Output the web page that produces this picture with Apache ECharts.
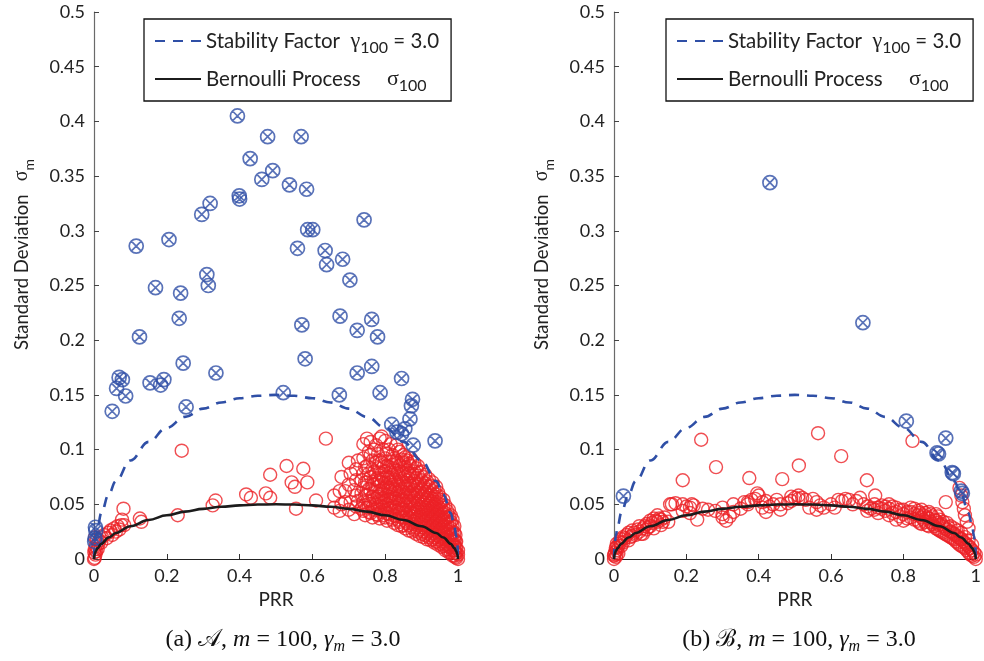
<!DOCTYPE html>
<html>
<head>
<meta charset="utf-8">
<script src="https://cdn.jsdelivr.net/npm/echarts@6/dist/echarts.min.js"></script>
<style>
  html, body { margin: 0; padding: 0; background: #fff; }
  #chart { width: 984px; height: 661px; }
</style>
</head>
<body>
<div id="chart"></div>
<script>
// Axis ticks
const xTicks = [0, 0.2, 0.4, 0.6, 0.8, 1];
const yTicks = [0, 0.05, 0.1, 0.15, 0.2, 0.25, 0.3, 0.35, 0.4, 0.45, 0.5];

// Reference curves sampled along PRR (m = 100)
const prrGrid = [0, 0.002, 0.005, 0.01, 0.02, 0.04, 0.06, 0.1, 0.15, 0.2, 0.25, 0.3, 0.35, 0.4, 0.45, 0.5,
                 0.55, 0.6, 0.65, 0.7, 0.75, 0.8, 0.85, 0.9, 0.94, 0.96, 0.98, 0.99, 0.995, 0.998, 1];
const bernoulliSigma = [0, 0.00447, 0.00705, 0.00995, 0.014, 0.0196, 0.02375, 0.03, 0.03571, 0.04, 0.0433, 0.04583, 0.0477, 0.04899, 0.04975, 0.05,
                        0.04975, 0.04899, 0.0477, 0.04583, 0.0433, 0.04, 0.03571, 0.03, 0.02375, 0.0196, 0.014, 0.00995, 0.00705, 0.00447, 0];
const stabilitySigma = [0, 0.0134, 0.0212, 0.0298, 0.042, 0.0588, 0.0712, 0.09, 0.1071, 0.12, 0.1299, 0.1375, 0.1431, 0.147, 0.1492, 0.15,
                        0.1492, 0.147, 0.1431, 0.1375, 0.1299, 0.12, 0.1071, 0.09, 0.0712, 0.0588, 0.042, 0.0298, 0.0212, 0.0134, 0];

// Panel (a): links flagged as unstable  [PRR, sigma]
const unstableA = [
  [0.394,0.405],[0.477,0.386],[0.569,0.386],[0.429,0.366],[0.491,0.355],[0.461,0.347],[0.537,0.342],[0.584,0.338],
  [0.399,0.332],[0.400,0.329],[0.319,0.325],[0.296,0.315],[0.742,0.310],[0.587,0.301],[0.601,0.301],[0.116,0.286],
  [0.206,0.292],[0.559,0.284],[0.635,0.282],[0.639,0.269],[0.683,0.274],[0.703,0.255],[0.310,0.260],[0.314,0.250],
  [0.169,0.248],[0.238,0.243],[0.234,0.220],[0.676,0.222],[0.763,0.219],[0.571,0.214],[0.723,0.209],[0.779,0.203],
  [0.125,0.203],[0.580,0.183],[0.245,0.179],[0.763,0.176],[0.723,0.170],[0.335,0.170],[0.845,0.165],[0.069,0.166],
  [0.078,0.164],[0.062,0.156],[0.154,0.161],[0.183,0.159],[0.192,0.164],[0.087,0.149],[0.050,0.135],[0.253,0.139],
  [0.520,0.152],[0.674,0.150],[0.786,0.152],[0.875,0.146],[0.872,0.140],[0.868,0.128],[0.818,0.123],[0.832,0.116],
  [0.845,0.1145],[0.854,0.119],[0.877,0.104],[0.937,0.108],[0.004,0.029],[0.005,0.026],[0.003,0.019],[0.002,0.016]
];

// Panel (a): stable links, sparse part  [PRR, sigma]
const stableA = [
  [0.002,0.001],[0.004,0.004],[0.006,0.007],[0.005,0.012],[0.010,0.009],[0.012,0.014],[0.015,0.017],[0.020,0.015],
  [0.022,0.020],[0.028,0.022],[0.035,0.019],[0.040,0.024],[0.045,0.026],[0.050,0.022],[0.055,0.028],[0.060,0.025],
  [0.065,0.030],[0.070,0.027],[0.075,0.031],[0.003,0.020],[0.008,0.018],[0.001,0.006],[0.000,0.000],[0.002,0.009],
  [0.081,0.046],[0.077,0.036],[0.083,0.031],[0.126,0.037],[0.130,0.034],[0.230,0.040],[0.241,0.099],[0.326,0.049],
  [0.334,0.0535],[0.418,0.059],[0.431,0.056],[0.472,0.060],[0.484,0.056],[0.484,0.077],[0.529,0.085],[0.543,0.070],
  [0.552,0.066],[0.575,0.0825],[0.586,0.070],[0.555,0.046],[0.610,0.0535],[0.637,0.110]
];

// Panel (a): stable links, dense high-PRR part, one row per PRR value
const stableRowsA = [
  [0.66, [0.047, 0.058]],
  [0.68, [0.050, 0.075]],
  [0.69, [0.052, 0.062]],
  [0.70, [0.045, 0.068, 0.088]],
  [0.72, [0.048, 0.058, 0.072, 0.082]],
  [0.74, [0.044, 0.052, 0.065, 0.078, 0.092, 0.105]],
  [0.75, [0.047, 0.058, 0.070, 0.085, 0.110]],
  [0.76, [0.042, 0.050, 0.062, 0.075, 0.095, 0.107]],
  [0.77, [0.045, 0.055, 0.068, 0.080, 0.100]],
  [0.78, [0.040, 0.048, 0.057, 0.066, 0.074, 0.083, 0.096]],
  [0.79, [0.043, 0.052, 0.060, 0.070, 0.078, 0.088, 0.112]],
  [0.80, [0.038, 0.045, 0.053, 0.062, 0.070, 0.080, 0.092, 0.108]],
  [0.81, [0.041, 0.049, 0.057, 0.065, 0.074, 0.084, 0.100]],
  [0.82, [0.036, 0.044, 0.052, 0.060, 0.068, 0.077, 0.086, 0.095]],
  [0.83, [0.039, 0.047, 0.055, 0.063, 0.072, 0.081, 0.090, 0.104]],
  [0.84, [0.034, 0.042, 0.050, 0.058, 0.066, 0.075, 0.085, 0.098]],
  [0.85, [0.031, 0.038, 0.045, 0.053, 0.061, 0.070, 0.078, 0.088, 0.095]],
  [0.86, [0.033, 0.040, 0.048, 0.056, 0.064, 0.072, 0.081, 0.090]],
  [0.87, [0.029, 0.036, 0.043, 0.051, 0.059, 0.067, 0.076, 0.085, 0.092]],
  [0.88, [0.027, 0.034, 0.041, 0.048, 0.056, 0.063, 0.071, 0.080, 0.088]],
  [0.89, [0.025, 0.031, 0.038, 0.045, 0.052, 0.060, 0.068, 0.076, 0.085]],
  [0.90, [0.023, 0.029, 0.036, 0.043, 0.050, 0.057, 0.064, 0.072, 0.080]],
  [0.91, [0.022, 0.028, 0.034, 0.040, 0.047, 0.054, 0.061, 0.069, 0.077]],
  [0.92, [0.020, 0.026, 0.032, 0.038, 0.044, 0.051, 0.058, 0.066, 0.073]],
  [0.93, [0.018, 0.024, 0.030, 0.036, 0.042, 0.048, 0.055, 0.062, 0.070]],
  [0.94, [0.016, 0.022, 0.028, 0.034, 0.040, 0.046, 0.052, 0.059, 0.066]],
  [0.95, [0.014, 0.020, 0.026, 0.032, 0.038, 0.044, 0.050, 0.057]],
  [0.96, [0.012, 0.018, 0.023, 0.029, 0.035, 0.041, 0.047, 0.054]],
  [0.97, [0.009, 0.014, 0.020, 0.026, 0.032, 0.038, 0.044]],
  [0.98, [0.006, 0.011, 0.017, 0.022, 0.028, 0.034, 0.040]],
  [0.99, [0.003, 0.008, 0.013, 0.018, 0.024, 0.030]],
  [0.995, [0.001, 0.005, 0.010, 0.016]],
  [1.0, [0.000, 0.004, 0.008]],
  [0.675, [0.044, 0.062]],
  [0.705, [0.052, 0.078]],
  [0.715, [0.041, 0.063]],
  [0.725, [0.053, 0.090]],
  [0.735, [0.046, 0.060, 0.072]],
  [0.745, [0.040, 0.049, 0.058, 0.070, 0.084]],
  [0.755, [0.043, 0.053, 0.064, 0.078, 0.098]],
  [0.765, [0.038, 0.047, 0.057, 0.068, 0.082, 0.090]],
  [0.775, [0.041, 0.050, 0.061, 0.073, 0.088, 0.104]],
  [0.785, [0.037, 0.045, 0.053, 0.062, 0.071, 0.079, 0.090, 0.110]],
  [0.795, [0.040, 0.048, 0.056, 0.065, 0.074, 0.084, 0.100]],
  [0.805, [0.035, 0.042, 0.050, 0.058, 0.066, 0.075, 0.085, 0.096]],
  [0.815, [0.038, 0.046, 0.054, 0.062, 0.070, 0.079, 0.089, 0.105]],
  [0.825, [0.033, 0.040, 0.048, 0.056, 0.064, 0.073, 0.082, 0.092]],
  [0.835, [0.031, 0.036, 0.044, 0.052, 0.060, 0.068, 0.078, 0.088, 0.100]],
  [0.845, [0.030, 0.038, 0.046, 0.054, 0.062, 0.071, 0.080, 0.091]],
  [0.855, [0.028, 0.035, 0.042, 0.050, 0.058, 0.066, 0.075, 0.084, 0.093]],
  [0.865, [0.026, 0.031, 0.038, 0.045, 0.053, 0.061, 0.069, 0.078, 0.087]],
  [0.875, [0.025, 0.032, 0.039, 0.046, 0.053, 0.061, 0.069, 0.078, 0.089]],
  [0.885, [0.023, 0.029, 0.036, 0.043, 0.050, 0.058, 0.066, 0.074, 0.083]],
  [0.895, [0.021, 0.027, 0.033, 0.040, 0.047, 0.054, 0.062, 0.070, 0.079]],
  [0.905, [0.020, 0.025, 0.031, 0.038, 0.045, 0.052, 0.059, 0.067, 0.075]],
  [0.915, [0.018, 0.024, 0.030, 0.036, 0.042, 0.049, 0.056, 0.063, 0.071]],
  [0.925, [0.017, 0.022, 0.028, 0.034, 0.040, 0.046, 0.053, 0.060, 0.067]],
  [0.935, [0.015, 0.020, 0.026, 0.032, 0.038, 0.044, 0.050, 0.057, 0.064]],
  [0.945, [0.013, 0.018, 0.024, 0.030, 0.036, 0.042, 0.048, 0.055, 0.061]],
  [0.955, [0.011, 0.016, 0.021, 0.027, 0.033, 0.039, 0.045, 0.052]],
  [0.965, [0.008, 0.013, 0.018, 0.024, 0.030, 0.036, 0.042, 0.049]],
  [0.975, [0.006, 0.011, 0.016, 0.021, 0.027, 0.033, 0.039, 0.045]],
  [0.985, [0.003, 0.008, 0.013, 0.018, 0.024, 0.030, 0.036]],
  [0.993, [0.002, 0.006, 0.011, 0.016, 0.022]]
];

// Panel (b): links flagged as unstable  [PRR, sigma]
const unstableB = [
  [0.431,0.344],[0.688,0.216],[0.808,0.126],[0.917,0.1105],[0.893,0.097],[0.897,0.096],
  [0.935,0.079],[0.938,0.078],[0.960,0.062],[0.963,0.060],[0.026,0.0575]
];

// Panel (b): stable links, outliers  [PRR, sigma]
const stableB = [
  [0.241,0.109],[0.564,0.115],[0.825,0.108],[0.628,0.094],[0.282,0.084],[0.511,0.0855],[0.190,0.072],[0.374,0.074],
  [0.465,0.073],[0.699,0.072],[0.722,0.058],[0.396,0.060],[0.917,0.052],[0.955,0.065],[0.960,0.058],[0.963,0.052],
  [0.967,0.046],[0.970,0.040],[0.975,0.034],[0.980,0.028]
];

// Panel (b): stable links along the Bernoulli band, one row per PRR value
const stableRowsB = [
  [0.000, [0.000, 0.003]], [0.003, [0.006]], [0.005, [0.002, 0.010]], [0.008, [0.008, 0.014]],
  [0.012, [0.005, 0.012]], [0.015, [0.016]], [0.020, [0.012, 0.018]], [0.025, [0.015, 0.020]],
  [0.030, [0.019]], [0.040, [0.017, 0.024]], [0.050, [0.021, 0.026]], [0.060, [0.022]],
  [0.070, [0.025, 0.030]], [0.080, [0.023, 0.028]], [0.090, [0.027, 0.032]], [0.100, [0.030, 0.035]],
  [0.110, [0.028, 0.037]], [0.120, [0.034, 0.040]], [0.130, [0.031, 0.036]], [0.140, [0.038]],
  [0.150, [0.034]], [0.160, [0.050]], [0.170, [0.051]], [0.190, [0.044, 0.050]],
  [0.210, [0.042, 0.047]], [0.220, [0.049]], [0.230, [0.036]], [0.260, [0.045]],
  [0.300, [0.038, 0.041, 0.047]], [0.310, [0.035]], [0.330, [0.043, 0.050]], [0.370, [0.050, 0.052]],
  [0.380, [0.054]], [0.400, [0.058]], [0.410, [0.047, 0.052]], [0.420, [0.043, 0.053]],
  [0.440, [0.050]], [0.460, [0.045, 0.050]], [0.490, [0.053, 0.057]], [0.500, [0.056]],
  [0.510, [0.055, 0.058]], [0.520, [0.056]], [0.540, [0.047]], [0.560, [0.045, 0.052]],
  [0.570, [0.049]], [0.610, [0.047]], [0.620, [0.054]], [0.640, [0.055]],
  [0.650, [0.054]], [0.660, [0.050]], [0.670, [0.053]], [0.680, [0.056]],
  [0.700, [0.044, 0.048]], [0.720, [0.045, 0.050]], [0.740, [0.046, 0.049]], [0.760, [0.040, 0.046, 0.050]],
  [0.780, [0.036, 0.043, 0.047]], [0.800, [0.035, 0.041, 0.045]], [0.820, [0.038, 0.043, 0.047]], [0.840, [0.035, 0.040, 0.044]],
  [0.850, [0.032, 0.038, 0.045]], [0.860, [0.034, 0.042]], [0.870, [0.030, 0.037, 0.043]], [0.880, [0.032, 0.039]],
  [0.890, [0.028, 0.035, 0.041]], [0.900, [0.026, 0.031, 0.036]], [0.910, [0.024, 0.030, 0.034]], [0.920, [0.022, 0.027, 0.033]],
  [0.930, [0.020, 0.025, 0.030]], [0.940, [0.018, 0.023, 0.028]], [0.950, [0.015, 0.020, 0.026]], [0.960, [0.012, 0.018, 0.024]],
  [0.970, [0.010, 0.015, 0.020]], [0.980, [0.006, 0.012, 0.017]], [0.990, [0.003, 0.008, 0.013]], [1.000, [0.000, 0.004]],
  [0.001, [0.004]], [0.007, [0.004, 0.011]], [0.018, [0.015]], [0.035, [0.022]], [0.045, [0.020]], [0.055, [0.024]],
  [0.065, [0.027]], [0.075, [0.023]], [0.085, [0.030]], [0.095, [0.029]], [0.105, [0.033]], [0.115, [0.035]],
  [0.125, [0.037]], [0.135, [0.034]], [0.155, [0.050]], [0.200, [0.048]], [0.215, [0.050]], [0.245, [0.046]],
  [0.280, [0.044]], [0.320, [0.039]], [0.350, [0.046]], [0.360, [0.052]], [0.390, [0.055]], [0.430, [0.048]],
  [0.450, [0.054]], [0.480, [0.051]], [0.530, [0.054]], [0.550, [0.055]], [0.580, [0.047]], [0.600, [0.050]],
  [0.630, [0.053]], [0.690, [0.050]], [0.710, [0.046]], [0.730, [0.042, 0.047]], [0.750, [0.044, 0.048]], [0.770, [0.042, 0.048]],
  [0.790, [0.039, 0.045]], [0.810, [0.037, 0.043]], [0.830, [0.036, 0.041, 0.046]], [0.845, [0.033, 0.042]], [0.855, [0.036, 0.040]],
  [0.865, [0.031, 0.038]], [0.875, [0.034, 0.041]], [0.885, [0.030, 0.036]], [0.895, [0.027, 0.033, 0.039]], [0.905, [0.025, 0.032]],
  [0.915, [0.023, 0.028]], [0.925, [0.021, 0.029]], [0.935, [0.019, 0.024]], [0.945, [0.016, 0.022]], [0.955, [0.013, 0.019]],
  [0.965, [0.011, 0.016]], [0.975, [0.008, 0.013]], [0.985, [0.004, 0.010]], [0.995, [0.002, 0.006]]
];

const BLUE = '#2f4fa6';
const RED = '#ec2227';
const INK = '#1c1c1c';
const SANS = 'Lato, "Open Sans", sans-serif';
const SERIF = '"Liberation Serif", "DejaVu Serif", serif';

// circle with a cross inside
const CROSS_CIRCLE = 'path://M0,-10A10,10 0 1,1 0,10A10,10 0 1,1 0,-10Z M-7.07,-7.07L7.07,7.07M7.07,-7.07L-7.07,7.07';

function flattenRows(rows) {
  const out = [];
  rows.forEach(([p, list]) => list.forEach(s => out.push([p, s])));
  return out;
}
function curve(values) { return prrGrid.map((p, i) => [p, values[i]]); }

const panels = [
  { left: 94, right: 526, stable: stableA.concat(flattenRows(stableRowsA)), unstable: unstableA },
  { left: 614, right: 6, stable: stableB.concat(flattenRows(stableRowsB)), unstable: unstableB }
];

const grids = [], xAxes = [], yAxes = [], series = [];
panels.forEach((pn, k) => {
  grids.push({ left: pn.left, right: pn.right, top: 12, bottom: 102 });
  xAxes.push({
    type: 'value', gridIndex: k, min: xTicks[0], max: xTicks[xTicks.length - 1], interval: xTicks[1] - xTicks[0],
    name: 'PRR', nameLocation: 'middle', nameGap: 30,
    nameTextStyle: { fontFamily: SANS, fontSize: 19, color: '#222' },
    axisLine: { show: true, lineStyle: { color: '#222', width: 1.2 } },
    axisTick: { show: true, inside: true, length: 5, lineStyle: { color: '#333' } },
    axisLabel: { fontFamily: SANS, fontSize: 18, color: '#222', margin: 8 },
    splitLine: { show: false }
  });
  yAxes.push({
    type: 'value', gridIndex: k, min: yTicks[0], max: yTicks[yTicks.length - 1], interval: yTicks[1] - yTicks[0],
    name: '{t|Standard Deviation}{gap|}{g|σ}{s|m}',
    nameLocation: 'middle', nameGap: 58,
    nameTextStyle: {
      padding: [0, 0, 0, 62],
      rich: {
        t: { fontFamily: SANS, fontSize: 18.5, color: '#222', lineHeight: 28 },
        gap: { width: 13, lineHeight: 28 },
        g: { fontFamily: SERIF, fontSize: 20, color: '#222', lineHeight: 28 },
        s: { fontFamily: SANS, fontSize: 14, color: '#222', lineHeight: 12, verticalAlign: 'bottom' }
      }
    },
    axisLine: { show: true, lineStyle: { color: '#6a6a6a', width: 1.2 } },
    axisTick: { show: true, inside: true, length: 5, lineStyle: { color: '#444' } },
    axisLabel: { fontFamily: SANS, fontSize: 18, color: '#222', margin: 9 },
    splitLine: { show: false }
  });
  series.push({
    type: 'scatter', xAxisIndex: k, yAxisIndex: k, data: pn.stable, symbol: 'circle', symbolSize: 13,
    itemStyle: { color: 'rgba(0,0,0,0)', borderColor: RED, borderWidth: 1.4 }, silent: true, z: 2
  });
  series.push({
    type: 'scatter', xAxisIndex: k, yAxisIndex: k, data: pn.unstable, symbol: CROSS_CIRCLE, symbolSize: 14,
    itemStyle: { color: 'rgba(0,0,0,0)', borderColor: BLUE, borderWidth: 1.7 }, silent: true, z: 3
  });
  series.push({
    name: 'Stability Factor', type: 'line', xAxisIndex: k, yAxisIndex: k, data: curve(stabilitySigma),
    smooth: 0.4, smoothMonotone: 'x', symbol: 'none',
    lineStyle: { color: BLUE, width: 2.6, type: [10, 8] }, itemStyle: { color: BLUE }, silent: true, z: 4
  });
  series.push({
    name: 'Bernoulli Process', type: 'line', xAxisIndex: k, yAxisIndex: k, data: curve(bernoulliSigma),
    smooth: 0.4, smoothMonotone: 'x', symbol: 'none',
    lineStyle: { color: INK, width: 2.6 }, itemStyle: { color: INK }, silent: true, z: 5
  });
});

const legendRich = {
  t: { fontFamily: SANS, fontSize: 20.5, color: '#222', lineHeight: 30 },
  g: { fontFamily: SERIF, fontSize: 22, color: '#222', lineHeight: 30 },
  s: { fontFamily: SANS, fontSize: 16, color: '#222', lineHeight: 12, verticalAlign: 'bottom' }
};
function legendText(name) {
  return name === 'Stability Factor'
    ? '{t|Stability Factor  }{g|γ}{s|100}{t| = 3.0}'
    : '{t|Bernoulli Process     }{g|σ}{s|100}';
}
const legends = [144, 666].map(x => ({
  left: x, top: 19, orient: 'vertical', data: ['Stability Factor', 'Bernoulli Process'],
  itemWidth: 46, itemHeight: 14, itemGap: 12, selectedMode: false,
  padding: [11, 12, 7, 10], borderColor: '#111', borderWidth: 1.3, backgroundColor: '#fff',
  itemStyle: { color: 'rgba(0,0,0,0)', borderColor: 'rgba(0,0,0,0)', borderWidth: 0 },
  formatter: legendText, textStyle: { rich: legendRich }
}));

const capBase = { fontFamily: SERIF, fontWeight: 'normal', color: '#111' };
const capRich = {
  n: Object.assign({ fontSize: 24, lineHeight: 30 }, capBase),
  i: Object.assign({ fontSize: 24, lineHeight: 30, fontStyle: 'italic' }, capBase),
  c: Object.assign({ fontSize: 24, lineHeight: 30 }, capBase),
  s: Object.assign({ fontSize: 16, lineHeight: 12, fontStyle: 'italic', verticalAlign: 'bottom' }, capBase)
};
const captions = [
  { x: 278, text: '{n|(a) }{c|𝒜}{n|, }{i|m}{n| = 100, }{i|γ}{s|m}{n| = 3.0}' },
  { x: 794, text: '{n|(b) }{c|ℬ}{n|, }{i|m}{n| = 100, }{i|γ}{s|m}{n| = 3.0}' }
];

const chart = echarts.init(document.getElementById('chart'), null, { renderer: 'canvas' });
chart.setOption({
  animation: false,
  backgroundColor: '#fff',
  title: captions.map(c => ({
    text: c.text, left: c.x, top: 620, textAlign: 'center',
    textStyle: { fontWeight: 'normal', rich: capRich }
  })),
  legend: legends,
  grid: grids,
  xAxis: xAxes,
  yAxis: yAxes,
  series: series
});
</script>
</body>
</html>
